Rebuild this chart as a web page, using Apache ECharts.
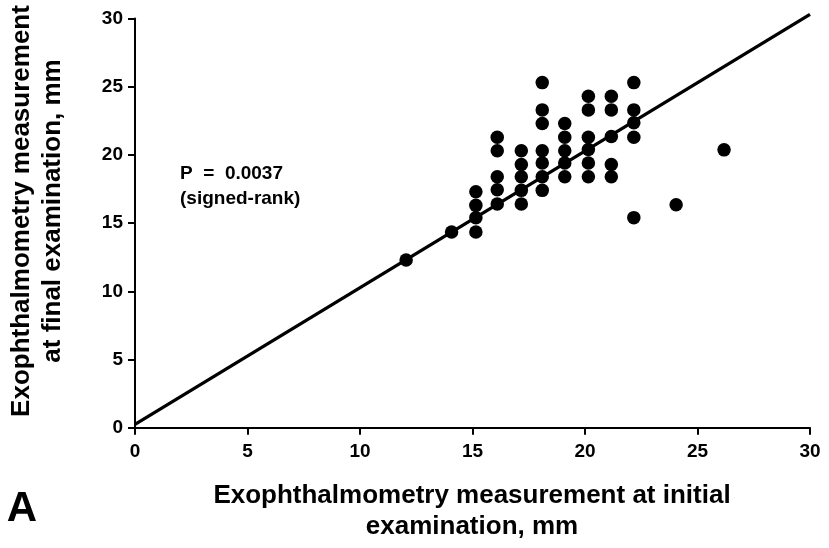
<!DOCTYPE html>
<html>
<head>
<meta charset="utf-8">
<script src="https://cdn.jsdelivr.net/npm/echarts@6/dist/echarts.min.js"></script>
<style>
  html, body { margin: 0; padding: 0; background: #fff; }
  #main { width: 829px; height: 548px; }
</style>
</head>
<body>
<div id="main"></div>
<script>
// exophthalmometry values (mm)
var initialMm = [
  12.05, 14.07,
  15.15, 15.15, 15.15, 15.15,
  16.1, 16.1, 16.1, 16.1, 16.1,
  17.17, 17.17, 17.17, 17.17, 17.17,
  18.1, 18.1, 18.1, 18.1, 18.1, 18.1, 18.1,
  19.1, 19.1, 19.1, 19.1, 19.1,
  20.15, 20.15, 20.15, 20.15, 20.15, 20.15,
  21.17, 21.17, 21.17, 21.17, 21.17,
  22.17, 22.17, 22.17, 22.17, 22.17,
  24.05, 26.18
];
var finalMm = [
  12.3, 14.35,
  17.3, 16.3, 15.4, 14.35,
  21.3, 20.3, 18.4, 17.45, 16.4,
  20.3, 19.3, 18.4, 17.4, 16.4,
  25.3, 23.3, 22.3, 20.3, 19.4, 18.4, 17.4,
  22.3, 21.3, 20.3, 19.4, 18.4,
  24.3, 23.3, 21.3, 20.4, 19.4, 18.4,
  24.3, 23.3, 21.35, 19.3, 18.4,
  25.3, 23.3, 22.35, 21.3, 15.4,
  16.35, 20.37
];
// fitted line end points
var lineX = [0, 30];
var lineY = [0.25, 30.3];
var xTicks = [0, 5, 10, 15, 20, 25, 30];
var yTicks = [0, 5, 10, 15, 20, 25, 30];

var points = initialMm.map(function (x, i) { return [x, finalMm[i]]; });
var linePts = lineX.map(function (x, i) { return [x, lineY[i]]; });

var font = "Liberation Sans, Arial, sans-serif";

var myChart = echarts.init(document.getElementById("main"));

var option = {
  backgroundColor: "#fff",
  animation: false,
  grid: {
    left: 135,
    right: 19,
    top: 18.5,
    bottom: 120.3,
    containLabel: false,
    outerBoundsMode: "none"
  },
  xAxis: {
    type: "value",
    min: xTicks[0],
    max: xTicks[xTicks.length - 1],
    interval: 5,
    axisLine: { show: true, onZero: false, lineStyle: { color: "#000", width: 2 } },
    axisTick: { show: true, length: 7, lineStyle: { color: "#000", width: 2 } },
    splitLine: { show: false },
    axisLabel: {
      color: "#000", fontSize: 19, fontWeight: "bold", fontFamily: font, margin: 15
    }
  },
  yAxis: {
    type: "value",
    min: yTicks[0],
    max: yTicks[yTicks.length - 1],
    interval: 5,
    axisLine: { show: true, onZero: false, lineStyle: { color: "#000", width: 2 } },
    axisTick: { show: true, length: 7, lineStyle: { color: "#000", width: 2 } },
    splitLine: { show: false },
    axisLabel: {
      color: "#000", fontSize: 19, fontWeight: "bold", fontFamily: font, margin: 12
    }
  },
  series: [
    {
      type: "line",
      data: linePts,
      symbol: "none",
      clip: false,
      lineStyle: { color: "#000", width: 3.3 },
      z: 2
    },
    {
      type: "scatter",
      data: points,
      symbol: "circle",
      symbolSize: 13.5,
      itemStyle: { color: "#000", opacity: 1 },
      z: 3
    }
  ],
  graphic: [
    {
      type: "text",
      left: 180,
      top: 161,
      style: {
        text: "P  =  0.0037\n(signed-rank)",
        fill: "#000",
        font: "bold 19px " + font,
        lineHeight: 25
      }
    },
    {
      type: "text",
      x: 37,
      y: 211,
      rotation: Math.PI / 2,
      style: {
        text: "Exophthalmometry measurement\nat final examination, mm",
        fill: "#000",
        font: "bold 26px " + font,
        lineHeight: 31,
        align: "center",
        verticalAlign: "middle"
      }
    },
    {
      type: "text",
      x: 472,
      y: 511,
      style: {
        text: "Exophthalmometry measurement at initial\nexamination, mm",
        fill: "#000",
        font: "bold 26px " + font,
        lineHeight: 31,
        align: "center",
        verticalAlign: "middle"
      }
    },
    {
      type: "text",
      x: 22,
      y: 509,
      style: {
        text: "A",
        fill: "#000",
        font: "bold 42px " + font,
        align: "center",
        verticalAlign: "middle"
      }
    }
  ]
};

myChart.setOption(option);
</script>
</body>
</html>
